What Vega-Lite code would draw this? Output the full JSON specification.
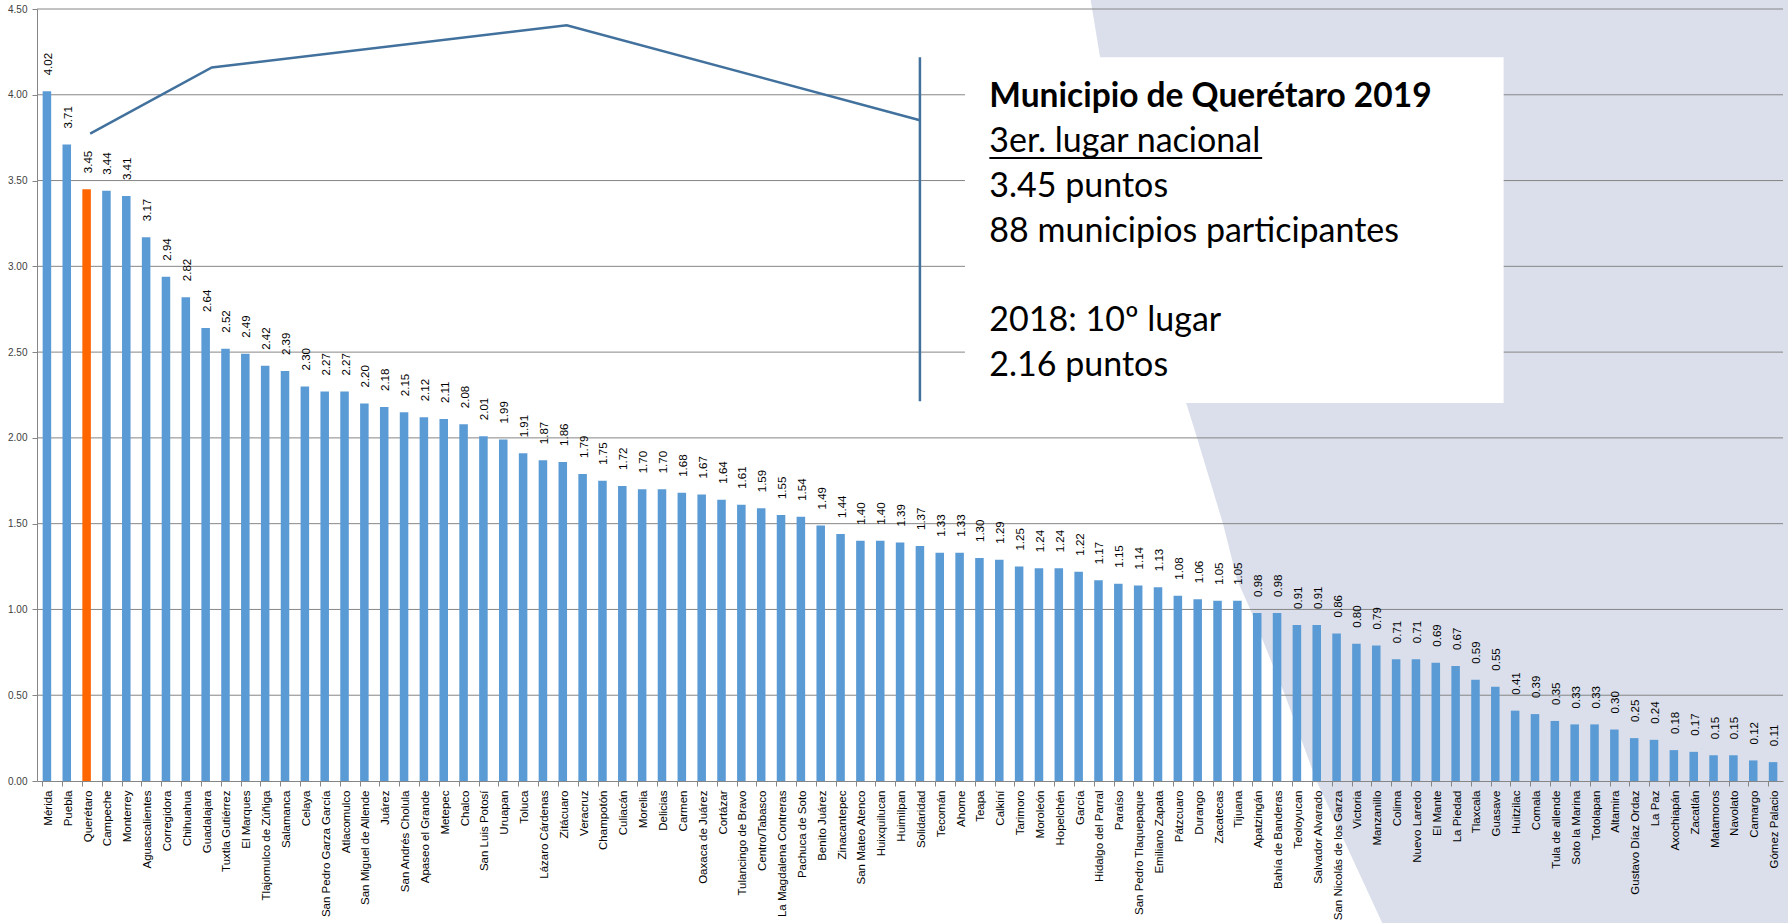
{
  "$schema": "https://vega.github.io/schema/vega-lite/v6.json",
  "width": 1746,
  "height": 772,
  "autosize": {"type": "none"},
  "padding": {"left": 37, "top": 9, "right": 5, "bottom": 142},
  "background": "white",
  "config": {"view": {"stroke": null}},
  "datasets": {
    "munis": [
      {"m": "Mérida", "v": 4.02}, {"m": "Puebla", "v": 3.71}, {"m": "Querétaro", "v": 3.45}, {"m": "Campeche", "v": 3.44},
      {"m": "Monterrey", "v": 3.41}, {"m": "Aguascalientes", "v": 3.17}, {"m": "Corregidora", "v": 2.94}, {"m": "Chihuahua", "v": 2.82},
      {"m": "Guadalajara", "v": 2.64}, {"m": "Tuxtla Gutiérrez", "v": 2.52}, {"m": "El Marques", "v": 2.49}, {"m": "Tlajomulco de Zúñiga", "v": 2.42},
      {"m": "Salamanca", "v": 2.39}, {"m": "Celaya", "v": 2.30}, {"m": "San Pedro Garza García", "v": 2.27}, {"m": "Atlacomulco", "v": 2.27},
      {"m": "San Miguel de Allende", "v": 2.20}, {"m": "Juárez", "v": 2.18}, {"m": "San Andrés Cholula", "v": 2.15}, {"m": "Apaseo el Grande", "v": 2.12},
      {"m": "Metepec", "v": 2.11}, {"m": "Chalco", "v": 2.08}, {"m": "San Luis Potosí", "v": 2.01}, {"m": "Uruapan", "v": 1.99},
      {"m": "Toluca", "v": 1.91}, {"m": "Lázaro Cárdenas", "v": 1.87}, {"m": "Zitácuaro", "v": 1.86}, {"m": "Veracruz", "v": 1.79},
      {"m": "Champotón", "v": 1.75}, {"m": "Culiacán", "v": 1.72}, {"m": "Morelia", "v": 1.70}, {"m": "Delicias", "v": 1.70},
      {"m": "Carmen", "v": 1.68}, {"m": "Oaxaca de Juárez", "v": 1.67}, {"m": "Cortázar", "v": 1.64}, {"m": "Tulancingo de Bravo", "v": 1.61},
      {"m": "Centro/Tabasco", "v": 1.59}, {"m": "La Magdalena Contreras", "v": 1.55}, {"m": "Pachuca de Soto", "v": 1.54}, {"m": "Benito Juárez", "v": 1.49},
      {"m": "Zinacantepec", "v": 1.44}, {"m": "San Mateo Atenco", "v": 1.40}, {"m": "Huixquilucan", "v": 1.40}, {"m": "Huimilpan", "v": 1.39},
      {"m": "Solidaridad", "v": 1.37}, {"m": "Tecomán", "v": 1.33}, {"m": "Ahome", "v": 1.33}, {"m": "Teapa", "v": 1.30},
      {"m": "Calkiní", "v": 1.29}, {"m": "Tarimoro", "v": 1.25}, {"m": "Moroleón", "v": 1.24}, {"m": "Hopelchén", "v": 1.24},
      {"m": "García", "v": 1.22}, {"m": "Hidalgo del Parral", "v": 1.17}, {"m": "Paraíso", "v": 1.15}, {"m": "San Pedro Tlaquepaque", "v": 1.14},
      {"m": "Emiliano Zapata", "v": 1.13}, {"m": "Pátzcuaro", "v": 1.08}, {"m": "Durango", "v": 1.06}, {"m": "Zacatecas", "v": 1.05},
      {"m": "Tijuana", "v": 1.05}, {"m": "Apatzingán", "v": 0.98}, {"m": "Bahía de Banderas", "v": 0.98}, {"m": "Teoloyucan", "v": 0.91},
      {"m": "Salvador Alvarado", "v": 0.91}, {"m": "San Nicolás de los Garza", "v": 0.86}, {"m": "Victoria", "v": 0.80}, {"m": "Manzanillo", "v": 0.79},
      {"m": "Colima", "v": 0.71}, {"m": "Nuevo Laredo", "v": 0.71}, {"m": "El Mante", "v": 0.69}, {"m": "La Piedad", "v": 0.67},
      {"m": "Tlaxcala", "v": 0.59}, {"m": "Guasave", "v": 0.55}, {"m": "Huitzilac", "v": 0.41}, {"m": "Comala", "v": 0.39},
      {"m": "Tula de allende", "v": 0.35}, {"m": "Soto la Marina", "v": 0.33}, {"m": "Totolapan", "v": 0.33}, {"m": "Altamira", "v": 0.30},
      {"m": "Gustavo Díaz Ordaz", "v": 0.25}, {"m": "La Paz", "v": 0.24}, {"m": "Axochiapán", "v": 0.18}, {"m": "Zacatlán", "v": 0.17},
      {"m": "Matamoros", "v": 0.15}, {"m": "Navolato", "v": 0.15}, {"m": "Camargo", "v": 0.12}, {"m": "Gómez Palacio", "v": 0.11}
    ],
    "shade": [
      {"sx": 53.08, "ex": 89, "sy": 4.57}, {"sx": 53.58, "ex": 89, "sy": 4.219}, {"sx": 55.6, "ex": 89, "sy": 3.211},
      {"sx": 57.92, "ex": 89, "sy": 2.203}, {"sx": 58.47, "ex": 89, "sy": 1.999}, {"sx": 59.78, "ex": 89, "sy": 1.498},
      {"sx": 60.49, "ex": 89, "sy": 1.171}, {"sx": 61.14, "ex": 89, "sy": 1.002}, {"sx": 62.9, "ex": 89, "sy": 0.501},
      {"sx": 64.47, "ex": 89, "sy": 0.006}, {"sx": 67.85, "ex": 89, "sy": -0.84}
    ],
    "grid": [
      {"g": 0.5}, {"g": 1.0}, {"g": 1.5}, {"g": 2.0}, {"g": 2.5}, {"g": 3.0}, {"g": 3.5}, {"g": 4.0}, {"g": 4.5}
    ],
    "callout": [
      {"cx": 2.68, "cy": 3.774}, {"cx": 8.81, "cy": 4.159}, {"cx": 26.7, "cy": 4.405}, {"cx": 44.5, "cy": 3.852}
    ]
  },
  "data": {"name": "munis"},
  "layer": [
    {
      "data": {"name": "shade"},
      "mark": {"type": "area", "orient": "horizontal", "color": "#DADFEB", "fill": "#DADFEB", "opacity": 1, "clip": false},
      "encoding": {
        "y": {"field": "sy", "type": "quantitative", "scale": {"domain": [0, 4.5], "nice": false, "zero": false}},
        "x": {"field": "sx", "type": "quantitative", "scale": {"domain": [0, 88], "nice": false, "zero": false}, "axis": null},
        "x2": {"field": "ex"}
      }
    },
    {
      "data": {"name": "grid"},
      "mark": {"type": "rule", "color": "#868686", "strokeWidth": 1},
      "encoding": {
        "y": {"field": "g", "type": "quantitative", "scale": {"domain": [0, 4.5], "nice": false, "zero": false}}
      }
    },
    {
      "layer": [
        {
          "mark": {"type": "bar"},
          "encoding": {
            "x": {
              "field": "m", "type": "nominal", "sort": null,
              "scale": {"paddingInner": 0.57, "paddingOuter": 0.285},
              "axis": {"orient": "bottom", "title": null, "ticks": false, "labelAngle": 270, "labelFont": "Liberation Sans", "labelFontSize": 11.5, "labelColor": "#000000", "labelPadding": 9, "labelLimit": 220, "labelOffset": 2, "domainColor": "#868686", "zindex": 1}
            },
            "y": {
              "field": "v", "type": "quantitative",
              "scale": {"domain": [0, 4.5], "nice": false, "zero": false},
              "axis": {"title": null, "values": [0, 0.5, 1, 1.5, 2, 2.5, 3, 3.5, 4, 4.5], "format": ".2f", "grid": false, "labelFont": "Liberation Sans", "labelFontSize": 10, "labelColor": "#404040", "domainColor": "#868686", "tickColor": "#868686", "tickSize": 5, "labelPadding": 5, "zindex": 1}
            },
            "color": {"condition": {"test": "datum.m === 'Querétaro'", "value": "#FF6600"}, "value": "#5B9BD5"}
          }
        },
        {
          "mark": {"type": "text", "angle": 270, "align": "left", "baseline": "middle", "dx": 16, "dy": 2, "font": "Liberation Sans", "fontSize": 11.5, "color": "#000000"},
          "encoding": {
            "x": {
              "field": "m", "type": "nominal", "sort": null,
              "axis": {"orient": "bottom", "title": null, "labels": false, "ticks": true, "tickSize": 5, "tickColor": "#868686", "bandPosition": 0, "domain": false, "zindex": 1}
            },
            "y": {"field": "v", "type": "quantitative", "scale": {"domain": [0, 4.5], "nice": false, "zero": false}},
            "text": {"field": "v", "type": "quantitative", "format": ".2f"}
          }
        }
      ],
      "resolve": {"axis": {"x": "independent"}}
    },
    {
      "data": {"values": [{}]},
      "mark": {"type": "rect", "color": "#FFFFFF"},
      "encoding": {
        "x": {"datum": 46.77, "type": "quantitative", "scale": {"domain": [0, 88], "nice": false, "zero": false}, "axis": null},
        "x2": {"datum": 73.92},
        "y": {"datum": 4.219, "type": "quantitative", "scale": {"domain": [0, 4.5], "nice": false, "zero": false}},
        "y2": {"datum": 2.203}
      }
    },
    {
      "data": {"values": [{}]},
      "layer": [
        {"mark": {"type": "text", "text": "Municipio de Querétaro 2019", "font": "Lato", "fontSize": 33.5, "fontWeight": "bold", "align": "left", "baseline": "alphabetic", "color": "#000000"},
         "encoding": {"x": {"datum": 48.0, "type": "quantitative", "scale": {"domain": [0, 88], "nice": false, "zero": false}, "axis": null}, "y": {"datum": 3.928, "type": "quantitative", "scale": {"domain": [0, 4.5], "nice": false, "zero": false}}}},
        {"mark": {"type": "text", "text": "3er. lugar nacional", "font": "Lato", "fontSize": 34, "align": "left", "baseline": "alphabetic", "color": "#000000"},
         "encoding": {"x": {"datum": 48.0, "type": "quantitative", "scale": {"domain": [0, 88], "nice": false, "zero": false}, "axis": null}, "y": {"datum": 3.666, "type": "quantitative", "scale": {"domain": [0, 4.5], "nice": false, "zero": false}}}},
        {"mark": {"type": "text", "text": "3.45 puntos", "font": "Lato", "fontSize": 34, "align": "left", "baseline": "alphabetic", "color": "#000000"},
         "encoding": {"x": {"datum": 48.0, "type": "quantitative", "scale": {"domain": [0, 88], "nice": false, "zero": false}, "axis": null}, "y": {"datum": 3.403, "type": "quantitative", "scale": {"domain": [0, 4.5], "nice": false, "zero": false}}}},
        {"mark": {"type": "text", "text": "88 municipios participantes", "font": "Lato", "fontSize": 34, "align": "left", "baseline": "alphabetic", "color": "#000000"},
         "encoding": {"x": {"datum": 48.0, "type": "quantitative", "scale": {"domain": [0, 88], "nice": false, "zero": false}, "axis": null}, "y": {"datum": 3.141, "type": "quantitative", "scale": {"domain": [0, 4.5], "nice": false, "zero": false}}}},
        {"mark": {"type": "text", "text": "2018: 10º lugar", "font": "Lato", "fontSize": 34, "align": "left", "baseline": "alphabetic", "color": "#000000"},
         "encoding": {"x": {"datum": 48.0, "type": "quantitative", "scale": {"domain": [0, 88], "nice": false, "zero": false}, "axis": null}, "y": {"datum": 2.622, "type": "quantitative", "scale": {"domain": [0, 4.5], "nice": false, "zero": false}}}},
        {"mark": {"type": "text", "text": "2.16 puntos", "font": "Lato", "fontSize": 34, "align": "left", "baseline": "alphabetic", "color": "#000000"},
         "encoding": {"x": {"datum": 48.0, "type": "quantitative", "scale": {"domain": [0, 88], "nice": false, "zero": false}, "axis": null}, "y": {"datum": 2.36, "type": "quantitative", "scale": {"domain": [0, 4.5], "nice": false, "zero": false}}}},
        {"mark": {"type": "rule", "color": "#000000", "strokeWidth": 2},
         "encoding": {"x": {"datum": 48.0, "type": "quantitative", "scale": {"domain": [0, 88], "nice": false, "zero": false}, "axis": null}, "x2": {"datum": 61.75}, "y": {"datum": 3.631, "type": "quantitative", "scale": {"domain": [0, 4.5], "nice": false, "zero": false}}}},
        {"mark": {"type": "rule", "color": "#41719C", "strokeWidth": 2.5},
         "encoding": {"x": {"datum": 44.5, "type": "quantitative", "scale": {"domain": [0, 88], "nice": false, "zero": false}, "axis": null}, "y": {"datum": 4.219, "type": "quantitative", "scale": {"domain": [0, 4.5], "nice": false, "zero": false}}, "y2": {"datum": 2.214}}}
      ]
    },
    {
      "data": {"name": "callout"},
      "mark": {"type": "line", "color": "#41719C", "strokeWidth": 2.5},
      "encoding": {
        "x": {"field": "cx", "type": "quantitative", "scale": {"domain": [0, 88], "nice": false, "zero": false}, "axis": null},
        "y": {"field": "cy", "type": "quantitative", "scale": {"domain": [0, 4.5], "nice": false, "zero": false}}
      }
    }
  ],
  "resolve": {"scale": {"x": "independent"}, "axis": {"x": "independent"}}
}
